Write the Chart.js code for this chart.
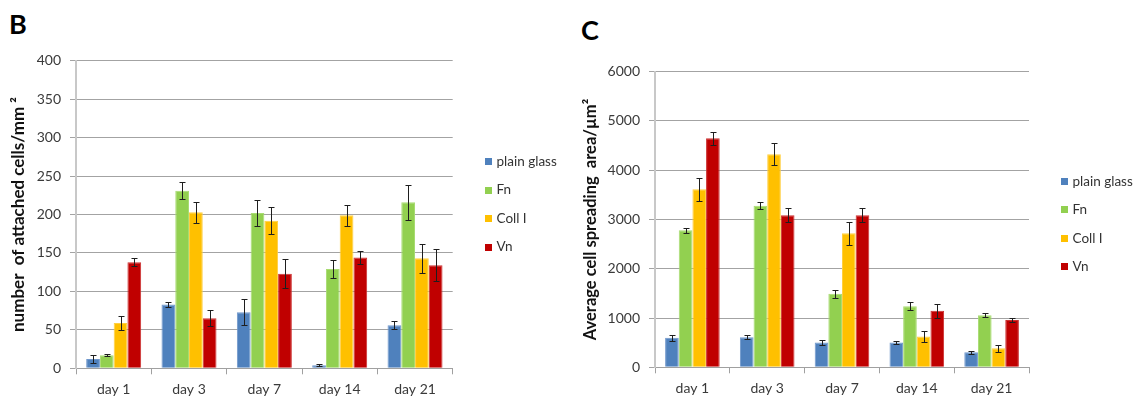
<!DOCTYPE html>
<html>
<head>
<meta charset="utf-8">
<script src="https://cdn.jsdelivr.net/npm/chart.js@4.4.1/dist/chart.umd.min.js"></script>
<style>
  html, body { margin: 0; padding: 0; background: #fff; }
  body { width: 1136px; height: 399px; position: relative; overflow: hidden; font-family: Lato, sans-serif; }
  .panel { position: absolute; top: 0; }
  .letter { position: absolute; font-family: Lato, sans-serif; font-weight: bold; font-size: 27px; color: #000; line-height: 1; }
</style>
</head>
<body>
<div class="letter" style="left:9px; top:10px;">B</div>
<div class="letter" style="left:581px; top:16px;">C</div>
<div class="panel" style="left:0px; width:570px; height:399px;"><canvas id="chartB" width="570" height="399"></canvas></div>
<div class="panel" style="left:570px; width:566px; height:399px;"><canvas id="chartC" width="566" height="399"></canvas></div>
<script>
// ---- data ----
const categories = ['day 1', 'day 3', 'day 7', 'day 14', 'day 21'];
const seriesNames = ['plain glass', 'Fn', 'Coll I', 'Vn'];
const seriesColors = ['#4F81BD', '#92D050', '#FFC000', '#C00000'];
const seriesBorders = ['#6f97cc', '#a8dc72', '#ffcf40', '#cc3030'];

// Panel B: number of attached cells/mm²
const plainGlassB = [12, 83, 73, 4, 56];
const fnB = [17, 231, 202, 129, 216];
const collB = [59, 203, 192, 199, 143];
const vnB = [138, 65, 123, 144, 134];
const plainGlassBErr = [5, 3, 17, 1, 5];
const fnBErr = [1.5, 11, 17, 12, 23];
const collBErr = [9, 13.5, 18, 14, 19];
const vnBErr = [5, 10.5, 18.5, 8.5, 20.5];
const yTicksB = { min: 0, max: 400, step: 50 };

// Panel C: average cell spreading area/µm²
const plainGlassC = [600, 610, 505, 505, 305];
const fnC = [2780, 3280, 1495, 1240, 1055];
const collC = [3615, 4325, 2720, 625, 385];
const vnC = [4650, 3085, 3085, 1150, 960];
const plainGlassCErr = [60, 40, 45, 35, 25];
const fnCErr = [50, 75, 80, 80, 40];
const collCErr = [230, 225, 230, 115, 70];
const vnCErr = [135, 140, 140, 140, 45];
const yTicksC = { min: 0, max: 6000, step: 1000 };

const FONT = 'Lato, sans-serif';

// error bar plugin: uses bar elements and the y scale
const errorBarPlugin = {
  id: 'errorBars',
  afterDatasetsDraw(chart) {
    const ctx = chart.ctx;
    const yScale = chart.scales.y;
    ctx.save();
    ctx.strokeStyle = '#1e1e1e';
    ctx.lineWidth = 1;
    chart.data.datasets.forEach((ds, di) => {
      const meta = chart.getDatasetMeta(di);
      meta.data.forEach((bar, i) => {
        const v = ds.data[i], e = ds.errors[i];
        const x = Math.round(bar.x) + 0.5;
        const yt = Math.round(yScale.getPixelForValue(v + e)) + 0.5;
        const yb = Math.round(yScale.getPixelForValue(v - e)) + 0.5;
        const cap = 3;
        ctx.beginPath();
        ctx.moveTo(x, yt); ctx.lineTo(x, yb);
        ctx.moveTo(x - cap, yt); ctx.lineTo(x + cap, yt);
        ctx.moveTo(x - cap, yb); ctx.lineTo(x + cap, yb);
        ctx.stroke();
      });
    });
    ctx.restore();
  }
};

// legend plugin: draws the series names from the datasets
const legendPlugin = {
  id: 'sideLegend',
  afterDraw(chart, args, opts) {
    const ctx = chart.ctx;
    ctx.save();
    ctx.font = '13.5px ' + FONT;
    ctx.textBaseline = 'middle';
    ctx.textAlign = 'left';
    chart.data.datasets.forEach((ds, i) => {
      const cy = opts.y0 + i * opts.dy;
      ctx.fillStyle = ds.backgroundColor;
      ctx.fillRect(opts.x, Math.round(cy - 3.5), 7, 7);
      ctx.fillStyle = '#333';
      ctx.fillText(ds.label, opts.x + 11.5, cy);
    });
    ctx.restore();
  }
};

function makeChart(id, seriesData, seriesErr, ticks, title, geom) {
  const datasets = seriesNames.map((name, i) => ({
    label: name,
    data: seriesData[i],
    errors: seriesErr[i],
    backgroundColor: seriesColors[i],
    borderColor: seriesBorders[i],
    borderWidth: 1,
    categoryPercentage: 0.73,
    barPercentage: 1.0
  }));
  return new Chart(document.getElementById(id), {
    type: 'bar',
    data: { labels: categories, datasets },
    options: {
      responsive: false,
      animation: false,
      events: [],
      layout: { padding: { top: geom.top, right: geom.right, bottom: 0, left: 0 } },
      plugins: {
        legend: { display: false },
        tooltip: { enabled: false },
        sideLegend: geom.legend
      },
      scales: {
        x: {
          grid: { offset: true, drawOnChartArea: false, drawTicks: true, tickLength: 6, color: '#a0a0a0' },
          border: { display: true, color: '#a0a0a0', width: 1 },
          ticks: { color: '#3a3a3a', font: { family: FONT, size: 14 }, padding: 7 },
          afterFit(scale) { scale.height = geom.xHeight; }
        },
        y: {
          min: ticks.min, max: ticks.max,
          grid: { color: '#a3a3a3', tickLength: 6, drawTicks: true },
          border: { display: true, color: '#c8c8c8', width: 2 },
          ticks: {
            stepSize: ticks.step, color: '#3a3a3a', font: { family: FONT, size: 14 }, padding: 9,
            callback: (v) => String(v)
          },
          title: {
            display: true, text: title, color: '#111',
            font: { family: FONT, size: geom.titleSize, weight: 'bold' },
            padding: { top: geom.titlePad, bottom: 0 }
          },
          afterFit(scale) { scale.width = geom.yWidth; }
        }
      }
    },
    plugins: [errorBarPlugin, legendPlugin]
  });
}

makeChart('chartB',
  [plainGlassB, fnB, collB, vnB],
  [plainGlassBErr, fnBErr, collBErr, vnBErr],
  yTicksB,
  'number  of attached cells/mm ²',
  { top: 60.7, right: 117.3, xHeight: 30.7, yWidth: 76, titlePad: 8, titleSize: 17,
    legend: { x: 485, y0: 161.5, dy: 28.5 } });

makeChart('chartC',
  [plainGlassC, fnC, collC, vnC],
  [plainGlassCErr, fnCErr, collCErr, vnCErr],
  yTicksC,
  'Average cell spreading  area/µm²',
  { top: 71.7, right: 107, xHeight: 31.7, yWidth: 85, titlePad: 11, titleSize: 16.5,
    legend: { x: 491, y0: 181.5, dy: 28.4 } });
</script>
</body>
</html>
